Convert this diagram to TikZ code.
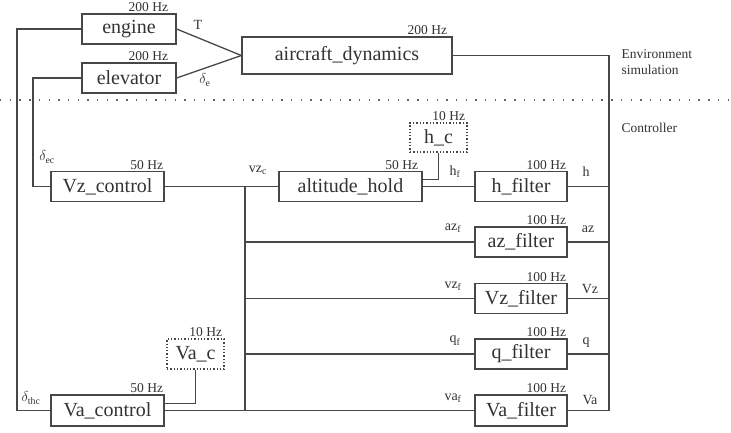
\documentclass[tikz,border=0pt]{standalone}
\usepackage{fontspec}
\setmainfont{Liberation Serif}
\begin{document}
\begin{tikzpicture}[x=1pt,y=-1pt,
  line width=1.3pt, draw=black!72, text=black!80,
  box/.style={draw, line width=1.3pt, inner sep=0pt, minimum width=#1, minimum height=30pt, font=\fontsize{20}{22}\selectfont},
  dbox/.style={box=#1, dotted, line width=1.5pt},
  hz/.style={anchor=south east, inner sep=1pt, font=\fontsize{13.5}{14}\selectfont},
  sig/.style={inner sep=0pt, font=\fontsize{14}{15}\selectfont},
  wire/.style={draw=black!72, line width=1.3pt}
]
\useasboundingbox (0,0) rectangle (731,432);

% nodes
\node[box=94pt] (engine) at (129,29) {engine};
\node[box=94pt] (elevator) at (129,78) {elevator};
\node[box=210pt, minimum height=37pt] (aircraft) at (347,55.5) {aircraft\_dynamics};
\node[box=113pt] (vzc) at (107.5,186.5) {Vz\_control};
\node[box=143pt] (alt) at (350.5,186.5) {altitude\_hold};
\node[dbox=57pt, minimum height=29pt] (hc) at (438.5,137.5) {h\_c};
\node[box=92pt] (hf) at (521,186.5) {h\_filter};
\node[box=92pt] (azf) at (521,242) {az\_filter};
\node[box=92pt] (vzf) at (521,298.5) {Vz\_filter};
\node[box=92pt] (qf) at (521,354) {q\_filter};
\node[box=92pt, minimum height=31pt] (vaf) at (521,410.5) {Va\_filter};
\node[box=113pt, minimum height=31pt] (vac) at (107.5,410.5) {Va\_control};
\node[dbox=57pt] (vacmd) at (195.5,354) {Va\_c};

% frequency labels
\node[hz] (f1) at ([xshift=-7pt]engine.north east) {200 Hz};
\node[hz] (f2) at ([xshift=-7pt]elevator.north east) {200 Hz};
\node[hz] (f3) at ([xshift=-4pt]aircraft.north east) {200 Hz};
\node[hz] (f4) at ([xshift=0pt]vzc.north east) {50 Hz};
\node[hz] (f5) at ([xshift=-3pt]alt.north east) {50 Hz};
\node[hz] (f6) at ([xshift=-1pt]hc.north east) {10 Hz};
\node[hz] (f7) at (hf.north east) {100 Hz};
\node[hz] (f8) at (azf.north east) {100 Hz};
\node[hz] (f9) at (vzf.north east) {100 Hz};
\node[hz] (f10) at (qf.north east) {100 Hz};
\node[hz] (f11) at (vaf.north east) {100 Hz};
\node[hz] (f12) at (vac.north east) {50 Hz};
\node[hz] (f13) at ([xshift=-1pt]vacmd.north east) {10 Hz};

% signal labels
\node[sig] (lT) at (198,25) {T};
\node[sig] (lde) at (205,80) {$\delta_{\mathrm{e}}$};
\node[sig] (ldec) at (47,157) {$\delta_{\mathrm{ec}}$};
\node[sig] (ldthc) at (31,398) {$\delta_{\mathrm{thc}}$};
\node[sig] (lvzc) at (258,170) {$\mathrm{vz_c}$};
\node[sig] (lhf) at (455,172) {$\mathrm{h_f}$};
\node[sig] (lazf) at (453,228) {$\mathrm{az_f}$};
\node[sig] (lvzf) at (453,286) {$\mathrm{vz_f}$};
\node[sig] (lqf) at (455,341) {$\mathrm{q_f}$};
\node[sig] (lvaf) at (453,398) {$\mathrm{va_f}$};
\node[sig] (lh) at (586,172) {h};
\node[sig] (laz) at (588,229) {az};
\node[sig] (lvz) at (590,289) {Vz};
\node[sig] (lq) at (586,343) {q};
\node[sig] (lva) at (590,400) {Va};

\node[sig, anchor=west, align=left, font=\fontsize{13.5}{15.5}\selectfont] (env) at (621,62) {Environment\\simulation};
\node[sig, anchor=west, font=\fontsize{13.5}{15.5}\selectfont] (ctrl) at (621,128) {Controller};

% bus coordinates
\coordinate (lx) at (17,0);
\coordinate (ex) at (33,0);
\coordinate (lb) at (245,0);
\coordinate (rx) at (609,0);
\coordinate (sepl) at (0,100);
\coordinate (sepr) at (731,100);

% separator
\draw[line width=1.4pt, dash pattern=on 1.4pt off 8.3pt, draw=black!60] (sepl) -- (sepr);

% connectors
\draw[wire] (engine.west) -| (lx |- vac.west) -- (vac.west);
\draw[wire] (elevator.west) -| (ex |- vzc.west) -- (vzc.west);
\draw[wire] (engine.east) -- (aircraft.west);
\draw[wire] (elevator.east) -- (aircraft.west);
\draw[wire] (aircraft.east) -| (rx |- vaf.east) -- (vaf.east);
\draw[wire] (hf.east) -- (hf.east -| rx);
\draw[wire] (azf.east) -- (azf.east -| rx);
\draw[wire] (vzf.east) -- (vzf.east -| rx);
\draw[wire] (qf.east) -- (qf.east -| rx);
\draw[wire] (vzc.east) -- (alt.west);
\draw[wire] (alt.east) -- (hf.west);
\draw[wire] (hc.south) |- ([yshift=7pt]alt.east);
\draw[wire] (vacmd.south) |- ([yshift=7pt]vac.east);
\draw[wire] (vzc.east -| lb) -- (vac.east -| lb);
\draw[wire] (vac.east) -- (vaf.west);
\draw[wire] (lb |- azf.west) -- (azf.west);
\draw[wire] (lb |- vzf.west) -- (vzf.west);
\draw[wire] (lb |- qf.west) -- (qf.west);
\end{tikzpicture}
\end{document}
